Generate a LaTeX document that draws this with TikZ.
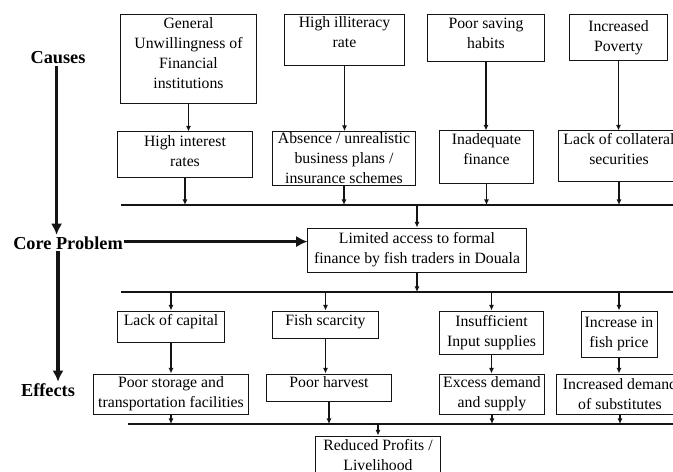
\documentclass[tikz,border=0pt]{standalone}
\usepackage{fontspec}
\setmainfont{Liberation Serif}
\usetikzlibrary{positioning,arrows.meta}
\definecolor{inkblack}{RGB}{20,20,20}

\tikzset{
  box/.style={draw=inkblack,line width=0.7pt,align=center,inner sep=1pt,
              font=\fontsize{11.2}{14.2}\selectfont},
  arr/.style={draw=inkblack,line width=1pt,-{Latex[length=4pt,width=3.6pt]}},
  bus/.style={draw=inkblack,line width=1.2pt},
  bigarr/.style={draw=inkblack,line width=2.6pt,-{Latex[length=8pt,width=8pt]}},
  lbl/.style={font=\fontsize{13}{15}\selectfont\bfseries,inner sep=1pt}
}

\begin{document}
\begin{tikzpicture}[x=0.025cm,y=-0.025cm]
  \useasboundingbox (0,0) rectangle (673,472);
  \fill[white] (0,0) rectangle (673,472);
  \clip (0,0) rectangle (673,472);

  % side labels
  \node[lbl] (causes) at (58,58) {Causes};
  \node[lbl] (coreprob) at (68,243) {Core Problem};
  \node[lbl] (effects) at (48,390) {Effects};

  % causes
  \node[box,minimum width=3.375cm,minimum height=2.2cm,text depth=8.2pt] (gen) at (188.5,59)
    {General\\Unwillingness of\\Financial\\institutions};
  \node[box,minimum width=2.975cm,minimum height=1.25cm,text depth=11pt] (illit) at (344.5,40)
    {High illiteracy\\rate};
  \node[box,minimum width=2.9cm,minimum height=1.15cm,text depth=6.8pt] (saving) at (486,38)
    {Poor saving\\habits};
  \node[box,minimum width=2.425cm,minimum height=1.125cm] (poverty) at (618.5,37.5)
    {Increased\\Poverty};

  \node[box,minimum width=3.35cm,minimum height=1.125cm,text depth=5pt] (interest) at (185,154.5)
    {High interest\\rates};
  \node[box,minimum width=3.55cm,minimum height=1.325cm] (absence) at (344,158.5)
    {Absence / unrealistic\\business plans /\\insurance schemes};
  \node[box,minimum width=2.325cm,minimum height=1.3cm,text depth=11pt] (inadequate) at (486.5,157)
    {Inadequate\\finance};
  \node[box,minimum width=3.0cm,minimum height=1.25cm,text depth=9.6pt] (collateral) at (619,156)
    {Lack of collateral\\securities};

  % core problem
  \node[box,minimum width=5.45cm,minimum height=1.1cm] (core) at (417,250)
    {Limited access to formal\\finance by fish traders in Douala};

  % effects
  \node[box,minimum width=2.65cm,minimum height=0.775cm,text depth=9.6pt] (capital) at (171,326.5)
    {Lack of capital};
  \node[box,minimum width=2.625cm,minimum height=0.675cm,text depth=6.8pt] (scarcity) at (325.5,324.5)
    {Fish scarcity};
  \node[box,minimum width=2.575cm,minimum height=1.075cm] (input) at (491.5,332.5)
    {Insufficient\\Input supplies};
  \node[box,minimum width=1.9cm,minimum height=1.15cm] (price) at (619,334)
    {Increase in\\fish price};

  \node[box,minimum width=3.85cm,minimum height=1.0cm] (storage) at (171,394)
    {Poor storage and\\transportation facilities};
  \node[box,minimum width=3.1cm,minimum height=0.675cm,text depth=8.2pt] (harvest) at (329,387.5)
    {Poor harvest};
  \node[box,minimum width=2.6cm,minimum height=1.0cm] (excess) at (492,394)
    {Excess demand\\and supply};
  \node[box,minimum width=3.15cm,minimum height=1.0cm] (subst) at (620,394)
    {Increased demand\\of substitutes};

  \node[box,minimum width=3.1cm,minimum height=0.95cm] (reduced) at (378,455)
    {Reduced Profits /\\Livelihood};

  % bus lines
  \coordinate (cbus) at (121,205);
  \coordinate (cbusend) at (680,205);
  \coordinate (ebus) at (121,292);
  \coordinate (ebusend) at (680,292);
  \coordinate (rbus) at (128,424);
  \coordinate (rbusend) at (680,424);
  \draw[bus] (cbus) -- (cbusend);
  \draw[bus] (ebus) -- (ebusend);
  \draw[bus] (rbus) -- (rbusend);

  % causes connectors
  \draw[arr] (gen.south) -- (gen.south |- interest.north);
  \draw[arr] (illit.south) -- (illit.south |- absence.north);
  \draw[arr] (saving.south) -- (saving.south |- inadequate.north);
  \draw[arr] (poverty.south) -- (poverty.south |- collateral.north);
  \draw[arr] (interest.south) -- (interest.south |- cbus);
  \draw[arr] (absence.south) -- (absence.south |- cbus);
  \draw[arr] (inadequate.south) -- (inadequate.south |- cbus);
  \draw[arr] (collateral.south) -- (collateral.south |- cbus);
  \draw[arr] (cbus -| core.north) -- (core.north);

  % effects connectors
  \draw[arr] (core.south) -- (core.south |- ebus);
  \draw[arr] (ebus -| capital.north) -- (capital.north);
  \draw[arr] (ebus -| scarcity.north) -- (scarcity.north);
  \draw[arr] (ebus -| input.north) -- (input.north);
  \draw[arr] (ebus -| price.north) -- (price.north);
  \draw[arr] (capital.south) -- (capital.south |- storage.north);
  \draw[arr] (scarcity.south) -- (scarcity.south |- harvest.north);
  \draw[arr] (input.south) -- (input.south |- excess.north);
  \draw[arr] (price.south) -- (price.south |- subst.north);
  \draw[arr] (storage.south) -- (storage.south |- rbus);
  \draw[arr] (harvest.south) -- (harvest.south |- rbus);
  \draw[arr] (excess.south) -- (excess.south |- rbus);
  \draw[arr] (subst.south) -- (subst.south |- rbus);
  \draw[arr] (rbus -| reduced.north) -- (reduced.north);

  % side arrows
  \draw[bigarr] ([xshift=-1pt]causes.south) -- ([xshift=-1pt]causes.south |- coreprob.north);
  \draw[bigarr] ([yshift=1pt]coreprob.east) -- ([yshift=1pt]coreprob.east -| core.west);
  \draw[bigarr] (causes.south |- coreprob.south) -- (causes.south |- effects.north);
\end{tikzpicture}
\end{document}
